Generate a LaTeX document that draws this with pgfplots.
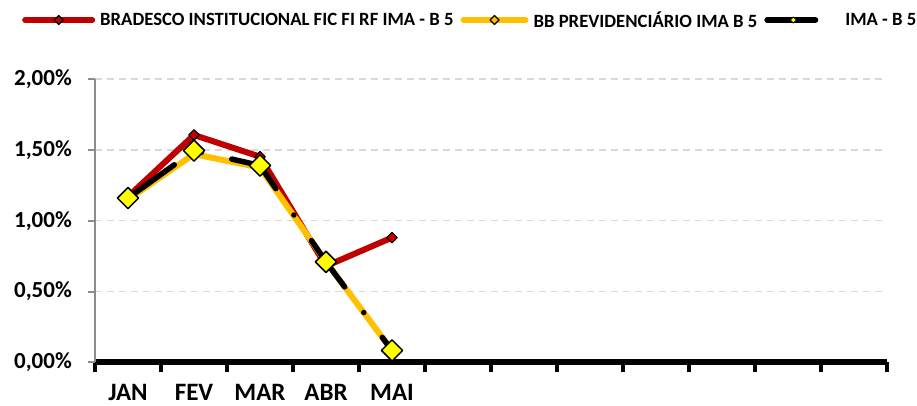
\documentclass[border=0pt]{standalone}
\usepackage{fontspec}
\setmainfont{Carlito}
\usepackage{pgfplots}
\pgfplotsset{compat=1.18}

\definecolor{cRed}{HTML}{C00000}
\definecolor{cOrange}{HTML}{FFC000}
\definecolor{cYellow}{HTML}{FFFF00}
\definecolor{cGrid}{HTML}{D9D9D9}
\definecolor{cAxis}{HTML}{8C8C8C}

\begin{document}
\begin{tikzpicture}[x=1pt,y=1pt]
\useasboundingbox (0,0) rectangle (917,406);
\begin{axis}[
  at={(95pt,43.5pt)}, anchor=south west,
  scale only axis, width=792pt, height=283.5pt,
  xmin=-0.5, xmax=11.5, ymin=0, ymax=2,
  clip=false,
  axis x line*=bottom, axis y line*=left,
  x axis line style={-, black, line width=6pt},
  y axis line style={-, cAxis, line width=2pt},
  xtick={0,1,2,3,4},
  xticklabels={JAN,FEV,MAR,ABR,MAI},
  minor xtick={-0.5,0.5,...,11.5},
  ytick={0,0.5,1,1.5,2},
  yticklabels={{0,00\%},{0,50\%},{1,00\%},{1,50\%},{2,00\%}},
  tick align=outside,
  major x tick style={draw=none},
  minor x tick style={black, line width=4pt},
  major y tick style={cAxis, line width=2pt},
  major tick length=7pt,
  minor tick length=9.5pt,
  ymajorgrids,
  major grid style={cGrid, line width=1.5pt, dash pattern=on 7pt off 5pt},
  yticklabel style={font=\fontsize{23}{27}\selectfont\bfseries, anchor=east, inner sep=0pt, xshift=-16pt},
  xticklabel style={font=\fontsize{25}{29}\selectfont\bfseries, anchor=north, inner sep=0pt, yshift=-15pt},
  legend columns=3,
  legend cell align=left,
  legend style={at={(-0.0922,1.2081)}, anchor=west, draw=none, fill=none, inner sep=0pt,
    font=\fontsize{18.7}{22}\selectfont\bfseries,
    nodes={inner sep=0pt},
    /tikz/every odd column/.append style={column sep=5pt},
    /tikz/every even column/.append style={column sep=7pt}},
]

% Bradesco Institucional
\addplot[cRed, line width=6pt, line join=round, line cap=round,
  mark=square*, mark size=3.8pt,
  mark options={solid, rotate=45, fill=cRed, draw=black, line width=1pt},
  legend image code/.code={
    \draw[cRed, line width=6pt, line cap=round] (0pt,0pt) -- (67pt,0pt);
    \draw[mark=square*, mark size=3.2pt, mark options={rotate=45, fill=cRed, draw=black, line width=1.2pt}]
      plot coordinates {(33.5pt,0pt)};
  }] coordinates {
  (0,1.17) (1,1.605) (2,1.452) (3,0.68) (4,0.881)
};
\addlegendentry{BRADESCO INSTITUCIONAL FIC FI RF IMA - B 5}

% BB Previdenciario
\addplot[cOrange, line width=6pt, line join=round, line cap=round,
  mark=square*, mark size=3.2pt,
  mark options={solid, rotate=45, fill=cOrange, draw=black, line width=1pt},
  legend image code/.code={
    \draw[cOrange, line width=6pt, line cap=round] (0pt,0pt) -- (62pt,0pt);
    \draw[mark=square*, mark size=3.2pt, mark options={rotate=45, fill=cOrange, draw=black, line width=1.2pt}]
      plot coordinates {(31pt,0pt)};
  }] coordinates {
  (0,1.15) (1,1.47) (2,1.375) (3,0.71) (4,0.085)
};
\addlegendentry{BB PREVIDENCIÁRIO IMA B 5}

% IMA - B 5
\addplot[black, line width=5.5pt, line join=round, line cap=round,
  dash pattern=on 57pt off 32pt on 0pt off 31pt,
  mark=square*, mark size=7.5pt,
  mark options={solid, rotate=45, fill=cYellow, draw=black, line width=1.5pt},
  legend image code/.code={
    \draw[black, line width=6pt, line cap=round] (0pt,0pt) -- (48pt,0pt);
    \draw[mark=square*, mark size=2.2pt, mark options={rotate=45, fill=cYellow, draw=black, line width=0.8pt}]
      plot coordinates {(26pt,0pt)};
  }] coordinates {
  (0,1.16) (1,1.495) (2,1.39) (3,0.71) (4,0.085)
};
\addlegendentry{\hspace*{22pt}IMA - B 5}

\end{axis}
\end{tikzpicture}
\end{document}
